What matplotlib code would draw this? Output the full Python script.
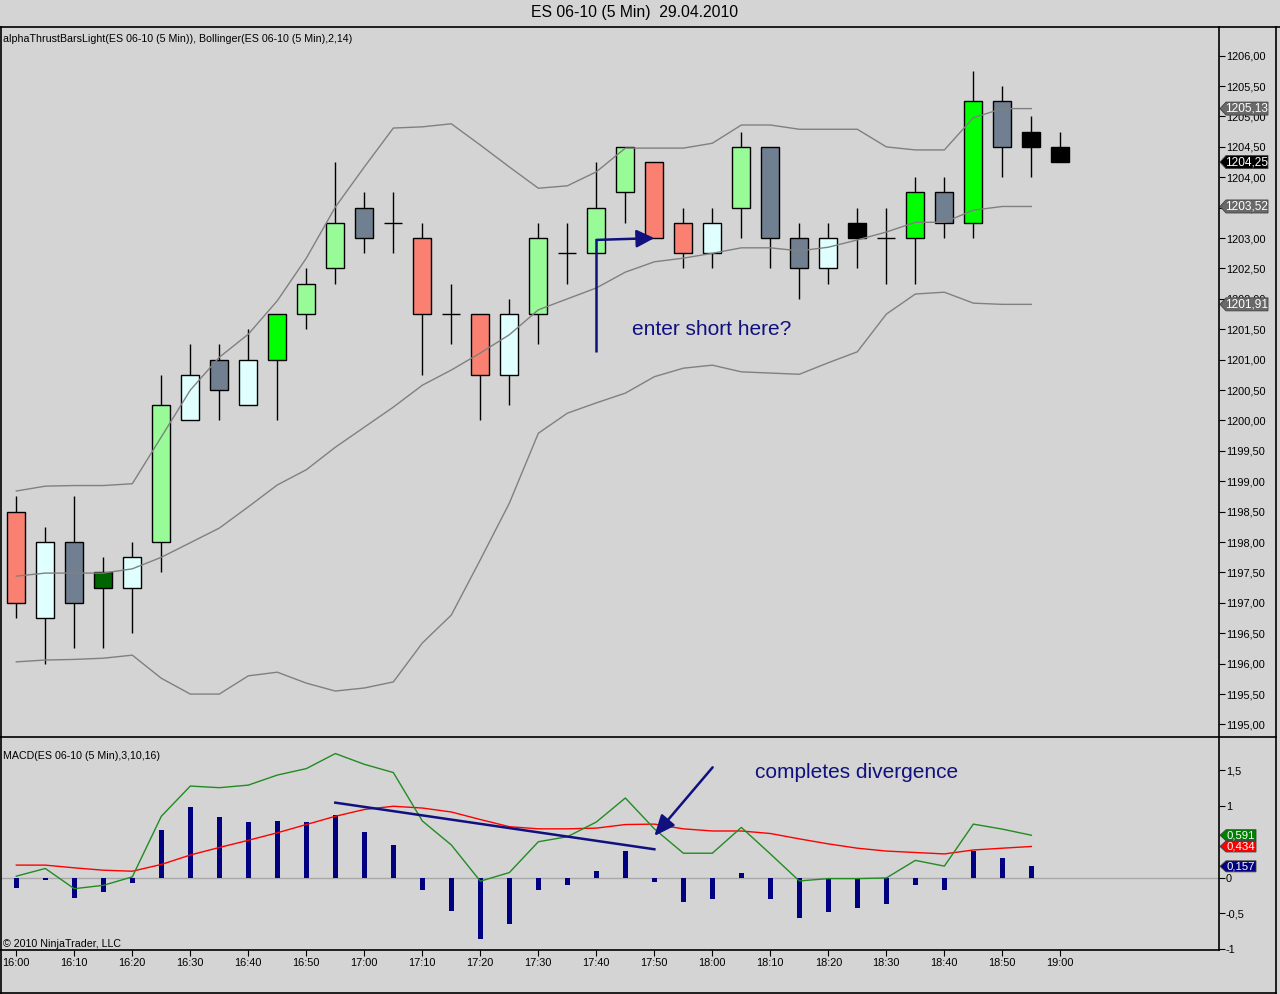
import numpy as np
import matplotlib
matplotlib.use('Agg')
import matplotlib.pyplot as plt
from matplotlib.patches import Rectangle, Polygon
from matplotlib.lines import Line2D

plt.rcParams['font.family'] = ['Liberation Sans', 'DejaVu Sans']

# ---------------- data ----------------
time_labels = ['16:00', '16:10', '16:20', '16:30', '16:40', '16:50', '17:00', '17:10',
               '17:20', '17:30', '17:40', '17:50', '18:00', '18:10', '18:20', '18:30',
               '18:40', '18:50', '19:00']

opens = [1198.50, 1196.75, 1198.00, 1197.25, 1197.25, 1198.00, 1200.00, 1201.00, 1200.25,
         1201.00, 1201.75, 1202.50, 1203.50, 1203.25, 1203.00, 1201.75, 1201.75, 1200.75,
         1201.75, 1202.75, 1202.75, 1203.75, 1204.25, 1203.25, 1202.75, 1203.50, 1204.50,
         1203.00, 1202.50, 1203.00, 1203.00, 1203.00, 1203.75, 1203.25, 1205.25, 1204.75,
         1204.50]
highs = [1198.75, 1198.25, 1198.75, 1197.75, 1198.00, 1200.75, 1201.25, 1201.25, 1201.50,
         1201.75, 1202.50, 1204.25, 1203.75, 1203.75, 1203.25, 1202.25, 1201.75, 1202.00,
         1203.25, 1203.25, 1204.25, 1204.50, 1204.25, 1203.50, 1203.50, 1204.75, 1204.50,
         1203.25, 1203.25, 1203.50, 1203.50, 1204.00, 1204.00, 1205.75, 1205.50, 1205.00,
         1204.75]
lows = [1196.75, 1196.00, 1196.25, 1196.25, 1196.50, 1197.50, 1200.00, 1200.00, 1200.25,
        1200.00, 1201.50, 1202.25, 1202.75, 1202.75, 1200.75, 1201.25, 1200.00, 1200.25,
        1201.25, 1202.25, 1202.75, 1203.25, 1203.00, 1202.50, 1202.50, 1203.00, 1202.50,
        1202.00, 1202.25, 1202.50, 1202.25, 1202.25, 1203.00, 1203.00, 1204.00, 1204.00,
        1204.25]
closes = [1197.00, 1198.00, 1197.00, 1197.50, 1197.75, 1200.25, 1200.75, 1200.50, 1201.00,
          1201.75, 1202.25, 1203.25, 1203.00, 1203.25, 1201.75, 1201.75, 1200.75, 1201.75,
          1203.00, 1202.75, 1203.50, 1204.50, 1203.00, 1202.75, 1203.25, 1204.50, 1203.00,
          1202.50, 1203.00, 1203.25, 1203.00, 1203.75, 1203.25, 1205.25, 1204.50, 1204.50,
          1204.25]
# alphaThrust bar classes
bar_class = ['S', 'W', 'G', 'D', 'W', 'P', 'W', 'G', 'W', 'L', 'P', 'P', 'G', 'X', 'S', 'X',
             'S', 'W', 'P', 'X', 'P', 'P', 'S', 'S', 'W', 'P', 'G', 'G', 'W', 'K', 'X', 'L',
             'G', 'L', 'G', 'K', 'K']

bb_upper = [1198.84, 1198.92, 1198.93, 1198.93, 1198.96, 1199.73, 1200.50, 1201.04, 1201.42,
            1201.97, 1202.67, 1203.51, 1204.17, 1204.81, 1204.83, 1204.88, 1204.53, 1204.17,
            1203.82, 1203.86, 1204.09, 1204.48, 1204.48, 1204.48, 1204.56, 1204.86, 1204.86,
            1204.79, 1204.79, 1204.79, 1204.50, 1204.45, 1204.45, 1204.98, 1205.13, 1205.13]
bb_middle = [1197.44, 1197.49, 1197.49, 1197.49, 1197.56, 1197.75, 1197.99, 1198.23, 1198.58,
             1198.94, 1199.19, 1199.56, 1199.89, 1200.22, 1200.58, 1200.83, 1201.11, 1201.41,
             1201.82, 1202.00, 1202.18, 1202.44, 1202.61, 1202.67, 1202.75, 1202.84, 1202.84,
             1202.79, 1202.85, 1202.97, 1203.10, 1203.26, 1203.26, 1203.46, 1203.52, 1203.52]
bb_lower = [1196.03, 1196.06, 1196.07, 1196.09, 1196.14, 1195.76, 1195.50, 1195.50, 1195.80,
            1195.86, 1195.68, 1195.55, 1195.60, 1195.70, 1196.34, 1196.80, 1197.71, 1198.64,
            1199.79, 1200.12, 1200.29, 1200.45, 1200.72, 1200.86, 1200.91, 1200.80, 1200.78,
            1200.76, 1200.95, 1201.13, 1201.75, 1202.08, 1202.11, 1201.93, 1201.91, 1201.91]

macd_line = [0.02, 0.127, -0.155, -0.108, 0.01, 0.855, 1.277, 1.254, 1.29, 1.43, 1.52, 1.73,
             1.58, 1.465, 0.79, 0.455, -0.05, 0.07, 0.50, 0.57, 0.775, 1.11, 0.68, 0.34, 0.34,
             0.70, 0.33, -0.047, -0.014, -0.014, -0.005, 0.24, 0.16, 0.746, 0.676, 0.591]
macd_signal = [0.174, 0.174, 0.136, 0.103, 0.089, 0.183, 0.315, 0.42, 0.52, 0.625, 0.74, 0.855,
               0.95, 0.995, 0.97, 0.915, 0.81, 0.71, 0.68, 0.68, 0.69, 0.74, 0.746, 0.68, 0.65,
               0.65, 0.615, 0.54, 0.47, 0.41, 0.37, 0.35, 0.33, 0.385, 0.41, 0.434]
macd_hist = [-0.146, -0.03, -0.29, -0.20, -0.075, 0.67, 0.98, 0.84, 0.77, 0.79, 0.78, 0.88,
             0.64, 0.455, -0.18, -0.47, -0.85, -0.65, -0.18, -0.11, 0.09, 0.375, -0.06, -0.34,
             -0.305, 0.06, -0.305, -0.57, -0.48, -0.42, -0.375, -0.11, -0.18, 0.375, 0.27, 0.157]

# ---------------- style ----------------
W, H = 1280, 994
BG = '#d4d4d4'
NAVY = '#10107e'
colors = {'S': '#fa8072', 'W': '#e0ffff', 'G': '#708090', 'D': '#006400',
          'P': '#98fb98', 'L': '#00ff00', 'K': '#000000', 'X': None}

fig = plt.figure(figsize=(W / 100, H / 100), dpi=100, facecolor=BG)


def fr(l, t, r, b):
    return [l / W, 1 - b / H, (r - l) / W, (b - t) / H]


ax = fig.add_axes(fr(1, 27, 1219, 737), facecolor=BG)
ax2 = fig.add_axes(fr(1, 737, 1219, 950), facecolor=BG, sharex=ax)
for a in (ax, ax2):
    for s in a.spines.values():
        s.set_visible(False)

n = len(opens)
xs = np.arange(n)
bw = 0.62
for i in range(n):
    o, h, l, c = opens[i], highs[i], lows[i], closes[i]
    ax.vlines(xs[i], l, h, color='black', lw=1, zorder=2)
    col = colors[bar_class[i]]
    if col is None or o == c:
        ax.hlines(o, xs[i] - bw / 2, xs[i] + bw / 2, color='black', lw=1, zorder=3)
    else:
        ax.add_patch(Rectangle((xs[i] - bw / 2, min(o, c)), bw, abs(c - o),
                               facecolor=col, edgecolor='black', lw=1, zorder=3))

xb = np.arange(len(bb_upper))
for band in (bb_upper, bb_middle, bb_lower):
    ax.plot(xb, band, color='#808080', lw=1, zorder=4)

ax.set_xlim(-0.528, 41.47)
ax.set_ylim(1194.794, 1206.472)
ax.yaxis.tick_right()
pt = np.arange(1195.0, 1206.01, 0.5)
ax.set_yticks(pt)
ax.set_yticklabels([f'{v:.2f}'.replace('.', ',') for v in pt])
ax.tick_params(axis='y', direction='out', length=4, width=0.8, labelsize=7.9, pad=1)
ax.tick_params(axis='x', bottom=False, labelbottom=False)

# MACD panel
xm = np.arange(len(macd_hist))
ax2.axhline(0, color='#a8a8a8', lw=1, zorder=1)
ax2.bar(xm, macd_hist, width=0.19, color='#000080', zorder=2)
ax2.plot(xm, macd_signal, color='#ff0000', lw=1, zorder=3)
ax2.plot(xm, macd_line, color='#228b22', lw=1, zorder=3)
ax2.set_ylim(-1.01, 1.961)
ax2.yaxis.tick_right()
ax2.set_yticks([1.5, 1, 0, -0.5, -1])
ax2.set_yticklabels(['1,5', '1', '0', '-0,5', '-1'])
ax2.tick_params(axis='y', direction='out', length=4, width=0.8, labelsize=7.9, pad=1)
ax2.set_xticks(np.arange(0, 37, 2))
ax2.set_xticklabels(time_labels)
ax2.tick_params(axis='x', direction='out', length=4, width=0.8, labelsize=7.9, pad=2)


def tag(a, val, txt, fc, w_px, half_px, units_per_px, fs):
    wa = 1218.0
    hh = half_px * units_per_px
    verts = [(1.0 + 1 / wa, val), (1.0 + 7 / wa, val + hh), (1.0 + w_px / wa, val + hh),
             (1.0 + w_px / wa, val - hh), (1.0 + 7 / wa, val - hh)]
    p = Polygon(verts, closed=True, facecolor=fc, edgecolor='#404040', lw=0.6,
                transform=a.get_yaxis_transform(), clip_on=False, zorder=10)
    a.add_patch(p)
    a.text(1.0 + (w_px + 7) / 2 / wa, val, txt, transform=a.get_yaxis_transform(),
           ha='center', va='center', color='white', fontsize=fs, zorder=11, clip_on=False)


pp = 1 / 60.75
tag(ax, bb_upper[-1], '1205,13', '#696969', 49, 6.5, pp, 8.6)
tag(ax, closes[-1], '1204,25', '#000000', 49, 6.5, pp, 8.6)
tag(ax, bb_middle[-1], '1203,52', '#696969', 49, 6.5, pp, 8.6)
tag(ax, bb_lower[-1], '1201,91', '#696969', 49, 6.5, pp, 8.6)
mp = 1 / 71.7
tag(ax2, macd_line[-1], '0,591', '#008000', 37, 5.5, mp, 8.2)
tag(ax2, macd_signal[-1], '0,434', '#ff0000', 37, 5.5, mp, 8.2)
tag(ax2, macd_hist[-1], '0,157', '#000080', 37, 5.5, mp, 8.2)

# annotations
ax.plot([20, 20], [1201.12, 1202.97], color=NAVY, lw=1.8, zorder=6, solid_capstyle='butt')
ax.annotate('', xy=(22.0, 1203.0), xytext=(20, 1202.97),
            arrowprops=dict(arrowstyle='-|>,head_length=0.6,head_width=0.3', color=NAVY,
                            lw=1.8, shrinkA=0, shrinkB=0, mutation_scale=18), zorder=6)
ax.text(21.24, 1201.5, 'enter short here?', color=NAVY, fontsize=15, ha='left', va='center',
        zorder=6)

ax2.plot([11.0, 22.0], [1.045, 0.395], color=NAVY, lw=1.8, zorder=6)
ax2.annotate('', xy=(22.0, 0.58), xytext=(24.01, 1.538),
             arrowprops=dict(arrowstyle='-|>,head_length=0.7,head_width=0.3', color=NAVY,
                             lw=1.8, shrinkA=0, shrinkB=0, mutation_scale=18), zorder=6)
ax2.text(25.47, 1.459, 'completes divergence', color=NAVY, fontsize=15, ha='left',
         va='center', zorder=6)

# texts
fig.text(635 / W, 1 - 13 / H, 'ES 06-10 (5 Min)  29.04.2010', ha='center', va='center',
         fontsize=11.3, color='black')
fig.text(3 / W, 1 - 39.3 / H,
         'alphaThrustBarsLight(ES 06-10 (5 Min)), Bollinger(ES 06-10 (5 Min),2,14)',
         ha='left', va='center', fontsize=7.7)
fig.text(3 / W, 1 - 755.7 / H, 'MACD(ES 06-10 (5 Min),3,10,16)', ha='left', va='center',
         fontsize=7.7)
fig.text(3 / W, 1 - 944 / H, '\u00a9 2010 NinjaTrader, LLC', ha='left', va='center',
         fontsize=7.7)


# frame lines
def line(x0, y0, x1, y1, lw=1.2):
    fig.add_artist(Line2D([x0 / W, x1 / W], [1 - y0 / H, 1 - y1 / H], color='black', lw=lw,
                          transform=fig.transFigure))


line(0, 27, 1280, 27)
line(0.7, 27, 0.7, 993)
line(1276, 27, 1276, 993)
line(0, 993, 1276, 993)
line(0, 737, 1276, 737)
line(0, 950, 1219, 950)
line(1219, 27, 1219, 950)

fig.savefig('out.png', dpi=100, facecolor=BG)
